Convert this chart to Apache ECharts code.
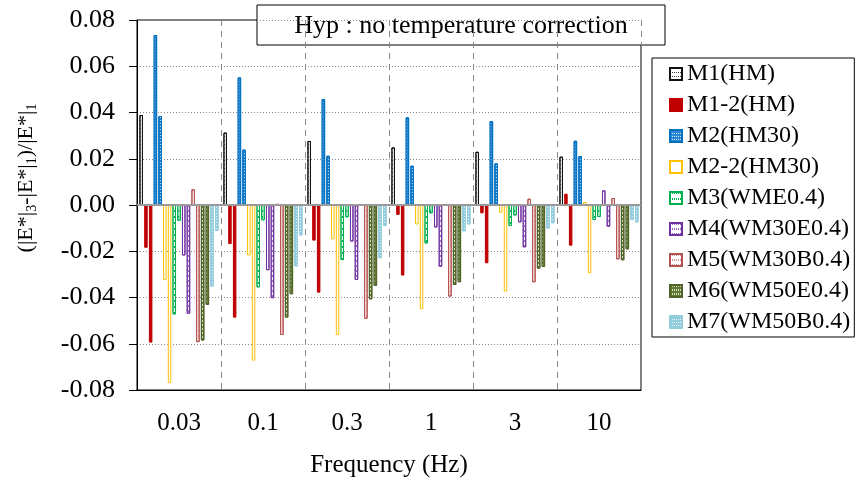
<!DOCTYPE html>
<html lang="en">
<head>
    <meta charset="UTF-8">
    <title>Hyp : no temperature correction</title>
    <script src="https://cdn.jsdelivr.net/npm/echarts/dist/echarts.min.js"></script>
    <style>
        body { margin: 0; background: #fff; }
        #main { width: 858px; height: 486px; }
    </style>
</head>
<body>
<div id="main"></div>
<script>
    // frequencies (Hz)
    var categories = ['0.03', '0.1', '0.3', '1', '3', '10']

    // (|E*|3-|E*|1)/|E*|1 per material, two bars per material except M1
    var m1 = [0.0389, 0.0313, 0.0277, 0.0249, 0.0230, 0.0209]
    var m12a = [-0.0185, -0.0169, -0.0154, -0.0043, -0.0036, 0.0049]
    var m12b = [-0.0595, -0.0487, -0.0379, -0.0305, -0.0252, -0.0176]
    var m2a = [0.0735, 0.0552, 0.0458, 0.0379, 0.0363, 0.0278]
    var m2b = [0.0385, 0.0240, 0.0213, 0.0170, 0.0180, 0.0212]
    var m22a = [-0.0324, -0.0218, -0.0148, -0.0084, -0.0033, 0.0013]
    var m22b = [-0.0770, -0.0673, -0.0562, -0.0451, -0.0374, -0.0295]
    var m3a = [-0.0473, -0.0356, -0.0238, -0.0166, -0.0091, -0.0065]
    var m3b = [-0.0068, -0.0066, -0.0053, -0.0036, -0.0045, -0.0052]
    var m4a = [-0.0218, -0.0282, -0.0158, -0.0097, -0.0075, 0.0063]
    var m4b = [-0.0470, -0.0403, -0.0324, -0.0267, -0.0183, -0.0094]
    var m5a = [0.0068, 0.0005, 0.0003, 0.0003, 0.0027, 0.0030]
    var m5b = [-0.0593, -0.0562, -0.0492, -0.0396, -0.0334, -0.0235]
    var m6a = [-0.0586, -0.0487, -0.0408, -0.0346, -0.0275, -0.0239]
    var m6b = [-0.0432, -0.0386, -0.0350, -0.0334, -0.0268, -0.0192]
    var m7a = [-0.0353, -0.0266, -0.0230, -0.0114, -0.0102, -0.0065]
    var m7b = [-0.0112, -0.0132, -0.0091, -0.0084, -0.0079, -0.0075]

    var legendNames = ['M1(HM)', 'M1-2(HM)', 'M2(HM30)', 'M2-2(HM30)', 'M3(WME0.4)',
        'M4(WM30E0.4)', 'M5(WM30B0.4)', 'M6(WM50E0.4)', 'M7(WM50B0.4)']

    var font = 'Liberation Serif'

    // look of each material (fill, border, optional pattern)
    var styles = {
        'M1(HM)': { color: '#ffffff', borderColor: '#111111',
            decal: { symbol: 'rect', color: '#444', dashArrayX: [1, 1], dashArrayY: [1, 3], symbolSize: 1 } },
        'M1-2(HM)': { color: '#c00000', borderColor: '#c00000' },
        'M2(HM30)': { color: '#2a86d2', borderColor: '#0070c0',
            decal: { symbol: 'rect', color: 'rgba(255,255,255,0.8)', dashArrayX: [1, 1], dashArrayY: [1, 2], symbolSize: 1 } },
        'M2-2(HM30)': { color: '#ffffff', borderColor: '#ffc000' },
        'M3(WME0.4)': { color: '#ffffff', borderColor: '#00b050',
            decal: { symbol: 'rect', color: '#00b050', dashArrayX: [1, 1], dashArrayY: [2, 4], symbolSize: 1 } },
        'M4(WM30E0.4)': { color: '#ffffff', borderColor: '#7030a0',
            decal: { symbol: 'rect', color: '#9a6cc4', dashArrayX: [1, 1], dashArrayY: [2, 3], symbolSize: 1 } },
        'M5(WM30B0.4)': { color: '#ffffff', borderColor: '#b5524f',
            decal: { symbol: 'rect', color: '#d39a98', dashArrayX: [1, 1], dashArrayY: [2, 3], symbolSize: 1 } },
        'M6(WM50E0.4)': { color: '#5f7a32', borderColor: '#4f6228',
            decal: { symbol: 'rect', color: 'rgba(255,255,255,0.75)', dashArrayX: [1, 1], dashArrayY: [2, 2], symbolSize: 1 } },
        'M7(WM50B0.4)': { color: '#93cddd', borderColor: '#93cddd',
            decal: { symbol: 'rect', color: 'rgba(255,255,255,0.8)', dashArrayX: [1, 1], dashArrayY: [1, 2], symbolSize: 1 } }
    }

    var bars = [
        ['M1(HM)', m1],
        ['M1-2(HM)', m12a], ['M1-2(HM)', m12b],
        ['M2(HM30)', m2a], ['M2(HM30)', m2b],
        ['M2-2(HM30)', m22a], ['M2-2(HM30)', m22b],
        ['M3(WME0.4)', m3a], ['M3(WME0.4)', m3b],
        ['M4(WM30E0.4)', m4a], ['M4(WM30E0.4)', m4b],
        ['M5(WM30B0.4)', m5a], ['M5(WM30B0.4)', m5b],
        ['M6(WM50E0.4)', m6a], ['M6(WM50E0.4)', m6b],
        ['M7(WM50B0.4)', m7a], ['M7(WM50B0.4)', m7b]
    ]

    var series = bars.map(function (b, i) {
        var st = styles[b[0]]
        var s = {
            name: b[0],
            type: 'bar',
            data: b[1],
            barWidth: 3.5,
            barGap: '35%',
            itemStyle: {
                color: st.color,
                borderColor: st.borderColor,
                borderWidth: 1,
                decal: st.decal
            }
        }
        if (i === 0) {
            // grey zero line across the plot
            s.markLine = {
                silent: true,
                symbol: ['none', 'none'],
                label: { show: false },
                lineStyle: { color: '#9a9a9a', type: 'solid', width: 2 },
                data: [{ yAxis: 0 }]
            }
        }
        return s
    })

    var mCharts = echarts.init(document.getElementById('main'))
    var option = {
        animation: false,
        grid: {
            left: 137,
            right: 217,
            top: 20,
            bottom: 96,
            show: true,
            borderColor: '#000',
            borderWidth: 1
        },
        legend: {
            data: legendNames,
            orient: 'vertical',
            left: 652,
            top: 58,
            itemWidth: 12,
            itemHeight: 12,
            itemGap: 7,
            padding: [4, 4, 3, 17],
            borderColor: '#000',
            borderWidth: 1,
            icon: 'rect',
            textStyle: { fontFamily: font, fontSize: 24, color: '#000', lineHeight: 24 }
        },
        xAxis: {
            type: 'category',
            data: categories,
            axisLine: { onZero: false, lineStyle: { color: '#000' } },
            axisTick: { show: false },
            axisLabel: { fontFamily: font, fontSize: 25, color: '#000', margin: 21 },
            splitLine: { show: true, lineStyle: { color: '#888', type: [6, 5] } },
            name: 'Frequency (Hz)',
            nameLocation: 'middle',
            nameGap: 63,
            nameTextStyle: { fontFamily: font, fontSize: 25, color: '#000' }
        },
        yAxis: {
            type: 'value',
            min: -0.08,
            max: 0.08,
            interval: 0.02,
            axisLine: { show: true, lineStyle: { color: '#000' } },
            axisTick: { show: true, length: 8, lineStyle: { color: '#000' } },
            axisLabel: {
                fontFamily: font, fontSize: 26, color: '#000', margin: 22,
                formatter: function (v) { return v.toFixed(2) }
            },
            splitLine: { show: true, lineStyle: { color: '#888', type: [1, 2] } }
        },
        graphic: [
            {
                type: 'text',
                x: 26,
                y: 178,
                rotation: Math.PI / 2,
                style: {
                    text: '(|E*|{s|3}-|E*|{s|1})/|E*|{s|1}',
                    font: '22px "Liberation Serif"',
                    fill: '#000',
                    align: 'center',
                    verticalAlign: 'middle',
                    lineHeight: 26,
                    rich: {
                        s: { fontSize: 14, fontFamily: font, lineHeight: 14, padding: [10, 0, 0, 0], verticalAlign: 'bottom' }
                    }
                }
            },
            {
                type: 'group',
                z: 100,
                children: [
                    {
                        type: 'rect',
                        shape: { x: 257, y: 5, width: 408, height: 40 },
                        style: { fill: '#fff', stroke: '#000', lineWidth: 1 }
                    },
                    {
                        type: 'text',
                        x: 461,
                        y: 26,
                        style: {
                            text: 'Hyp : no temperature correction',
                            font: '26px "Liberation Serif"',
                            fill: '#000',
                            align: 'center',
                            verticalAlign: 'middle'
                        }
                    }
                ]
            }
        ],
        series: series
    }
    mCharts.setOption(option)
</script>
</body>
</html>
